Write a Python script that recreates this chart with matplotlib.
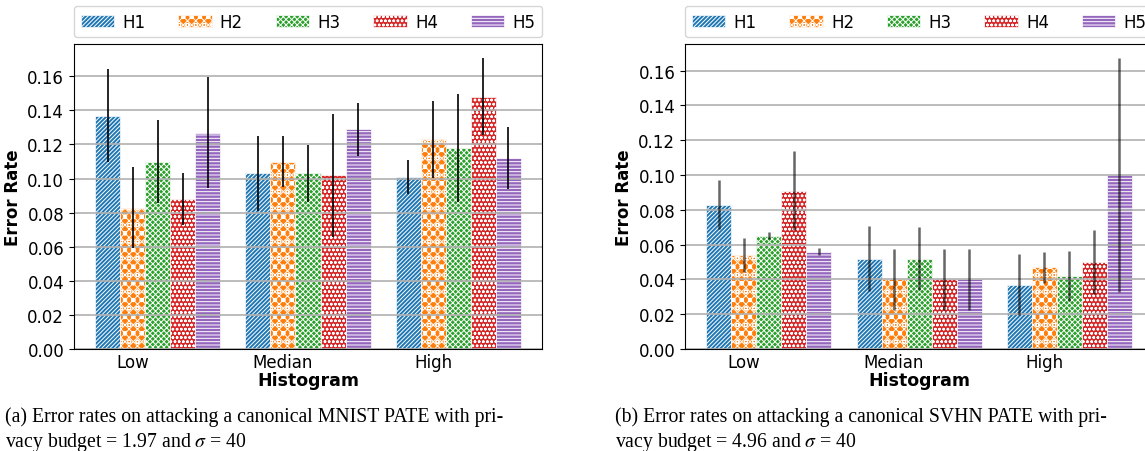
import matplotlib.pyplot as plt
import numpy as np

plt.rcParams["font.family"] = "DejaVu Sans"
plt.rcParams["hatch.linewidth"] = 0.7
plt.rcParams["mathtext.fontset"] = "stix"

groups = ["Low", "Median", "High"]
series = ["H1", "H2", "H3", "H4", "H5"]
colors = ["#1f77b4", "#ff7f0e", "#2ca02c", "#d62728", "#9467bd"]
hatches = ["////////", "xxxxoo", "xxxxxx", "oooo", "-----"]

# MNIST PATE, rows = H1..H5, cols = Low/Median/High
mnist_mean = [
    [0.137, 0.103, 0.101],
    [0.083, 0.110, 0.123],
    [0.110, 0.103, 0.118],
    [0.088, 0.102, 0.148],
    [0.127, 0.129, 0.112],
]
mnist_err = [
    [0.0275, 0.022, 0.010],
    [0.024, 0.015, 0.0225],
    [0.0245, 0.0165, 0.0315],
    [0.015, 0.036, 0.0225],
    [0.0325, 0.0155, 0.018],
]

# SVHN PATE
svhn_mean = [
    [0.083, 0.052, 0.037],
    [0.054, 0.040, 0.047],
    [0.065, 0.052, 0.042],
    [0.091, 0.040, 0.050],
    [0.056, 0.040, 0.100],
]
svhn_err = [
    [0.014, 0.0185, 0.0175],
    [0.010, 0.0175, 0.009],
    [0.002, 0.018, 0.0145],
    [0.0225, 0.0175, 0.0185],
    [0.002, 0.0175, 0.067],
]

captions = [
    ["(a) Error rates on attacking a canonical MNIST PATE with pri-",
     "vacy budget = 1.97 and $\\sigma$ = 40"],
    ["(b) Error rates on attacking a canonical SVHN PATE with pri-",
     "vacy budget = 4.96 and $\\sigma$ = 40"],
]


def draw(ax, means, errs, ealpha, elw):
    x = np.arange(len(groups))
    w = 1 / 6
    for i in range(len(series)):
        ax.bar(x + (i - 1) * w, means[i], w, yerr=errs[i], color=colors[i],
               edgecolor="white", hatch=hatches[i], linewidth=0.5, label=series[i],
               error_kw=dict(ecolor="black", alpha=ealpha, lw=elw))
    ax.set_xticks(x)
    ax.set_xticklabels(groups, fontsize=12)
    ax.tick_params(axis="x", length=0, pad=3)
    ax.tick_params(axis="y", labelsize=12)
    ax.set_yticks(np.arange(0, 0.17, 0.02))
    ax.yaxis.set_major_formatter(plt.FormatStrFormatter("%.2f"))
    ax.set_xlabel("Histogram", fontsize=12.5, fontweight="bold", labelpad=0)
    ax.set_ylabel("Error Rate", fontsize=12, fontweight="bold")
    ax.grid(axis="y", color="#b0b0b0", linewidth=1.2)
    ax.legend(loc="lower left", bbox_to_anchor=(0, 1.022, 1, 0.1), mode="expand",
              ncol=5, fontsize=12, borderaxespad=0, handlelength=2.0,
              handletextpad=0.5)


fig = plt.figure(figsize=(11.45, 4.52), dpi=100)
ax1 = fig.add_axes([0.0646, 0.2257, 0.4088, 0.675])
ax2 = fig.add_axes([0.5983, 0.2257, 0.4088, 0.675])
draw(ax1, mnist_mean, mnist_err, 1.0, 1.2)
draw(ax2, svhn_mean, svhn_err, 0.6, 1.8)

for cap, x0 in zip(captions, [0.004, 0.537]):
    fig.text(x0, 0.066, cap[0], fontsize=14.2, family="Liberation Serif", va="baseline")
    fig.text(x0, 0.012, cap[1], fontsize=14.2, family="Liberation Serif", va="baseline")

fig.savefig("out.png", dpi=100)
